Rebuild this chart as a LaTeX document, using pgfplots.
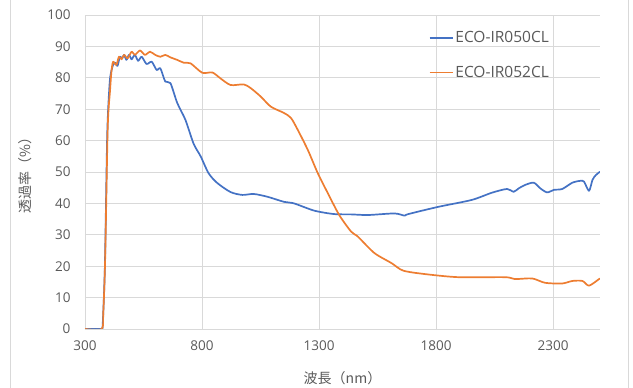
\documentclass[border=0pt]{standalone}
\usepackage{fontspec}
\setmainfont{Open Sans}
\newfontfamily\jp{Noto Sans CJK JP}
\usepackage{pgfplots}
\pgfplotsset{compat=1.18}
\definecolor{eblue}{HTML}{4472C4}
\definecolor{eorange}{HTML}{ED7D31}
\definecolor{txt}{HTML}{595959}
\definecolor{grd}{HTML}{D9D9D9}
\begin{document}
\begin{tikzpicture}[x=1pt,y=1pt]
\useasboundingbox (0,0) rectangle (633,388);
\draw[grd,line width=0.8pt] (10,0) -- (10,388);
\draw[grd,line width=0.8pt] (628,0) -- (628,388);
\begin{axis}[at={(85pt,59pt)}, anchor=south west, scale only axis,
  width=515pt, height=314pt,
  xmin=300, xmax=2500, ymin=0, ymax=100,
  xtick={300,800,1300,1800,2300}, ytick={0,10,...,100},
  grid=major, major grid style={grd, line width=0.8pt},
  axis line style={draw=none}, major tick length=0pt,
  tick label style={font=\fontsize{13.5}{16}\selectfont, text=txt},
  /pgf/number format/assume math mode=true,
  /pgf/number format/1000 sep={},
  xticklabel style={yshift=-8pt},
  yticklabel style={xshift=-11pt},
  xlabel={\jp 波長（nm）}, ylabel={\jp 透過率（\%）},
  x label style={at={(axis description cs:0.5,-0.156)}, anchor=center, font=\fontsize{14}{16}\selectfont, text=txt},
  y label style={at={(axis description cs:-0.1165,0.5)}, anchor=center, font=\fontsize{14}{16}\selectfont, text=txt},
  legend style={at={(axis description cs:0.667,0.955)}, anchor=north west, draw=none, fill=none,
    font=\fontsize{15.5}{17}\selectfont, text=txt, row sep=18pt, inner sep=0pt},
  legend cell align=left,
  legend image code/.code={\draw[#1, line width=1.7pt, sharp plot] (0pt,0pt) -- (23pt,0pt);},
]
\addplot[eblue, line width=1.7pt, line join=round, smooth, tension=0.45] coordinates {
(300,0)(370,0)(375,0.5)(385,20)(395,62)(405,78)(412,82)(420,84.1)(430,84.8)(439,83.8)(449,86.7)(459,86.2)(467,87.3)(477,85.7)(488,87.3)(499,85.9)(513,87.3)(527,85.4)(542,86.7)(563,84.4)(585,85.1)(606,82.5)(622,83)(643,78.8)(665,78.3)(694,72)(729,66.6)(764,59)(794,55)(828,49.6)(865,46.5)(922,43.6)(972,42.7)(1021,43)(1080,42.1)(1150,40.5)(1193,40)(1279,37.7)(1364,36.6)(1437,36.5)(1509,36.3)(1622,36.8)(1665,36.1)(1681,36.6)(1809,38.9)(1952,41.1)(2038,43.4)(2103,44.6)(2131,43.7)(2153,44.8)(2181,45.9)(2217,46.6)(2245,44.8)(2274,43.5)(2303,44.3)(2339,44.6)(2382,46.6)(2417,47.2)(2432,46.9)(2453,44)(2468,47.5)(2482,49)(2500,50.1)
};
\addlegendentry{ECO-IR050CL}
\addplot[eorange, line width=1.7pt, line join=round, smooth, tension=0.45] coordinates {
(300,0)(371,0)(378,5)(386,22)(397,64)(407,76)(413,82)(420,85.1)(434,84.1)(445,86.7)(456,85.9)(467,87.3)(482,86.2)(499,88.3)(513,87.3)(535,88.7)(556,87.3)(578,88.3)(600,87.3)(622,86.7)(643,87.3)(665,86.5)(694,85.7)(722,84.8)(751,84.6)(801,81.6)(844,81.7)(879,79.8)(922,77.7)(978,77.9)(1008,76.7)(1051,74)(1094,70.8)(1150,68.8)(1180,67.2)(1209,63.4)(1252,57)(1294,49.7)(1337,43.3)(1386,36.3)(1437,31)(1466,29.4)(1536,24.2)(1609,21)(1659,18.6)(1751,17.5)(1895,16.5)(2094,16.5)(2137,15.9)(2210,16.1)(2266,14.7)(2339,14.5)(2382,15.3)(2425,15.3)(2453,13.8)(2496,15.9)(2500,16)
};
\addlegendentry{ECO-IR052CL}
\end{axis}
\end{tikzpicture}
\end{document}
